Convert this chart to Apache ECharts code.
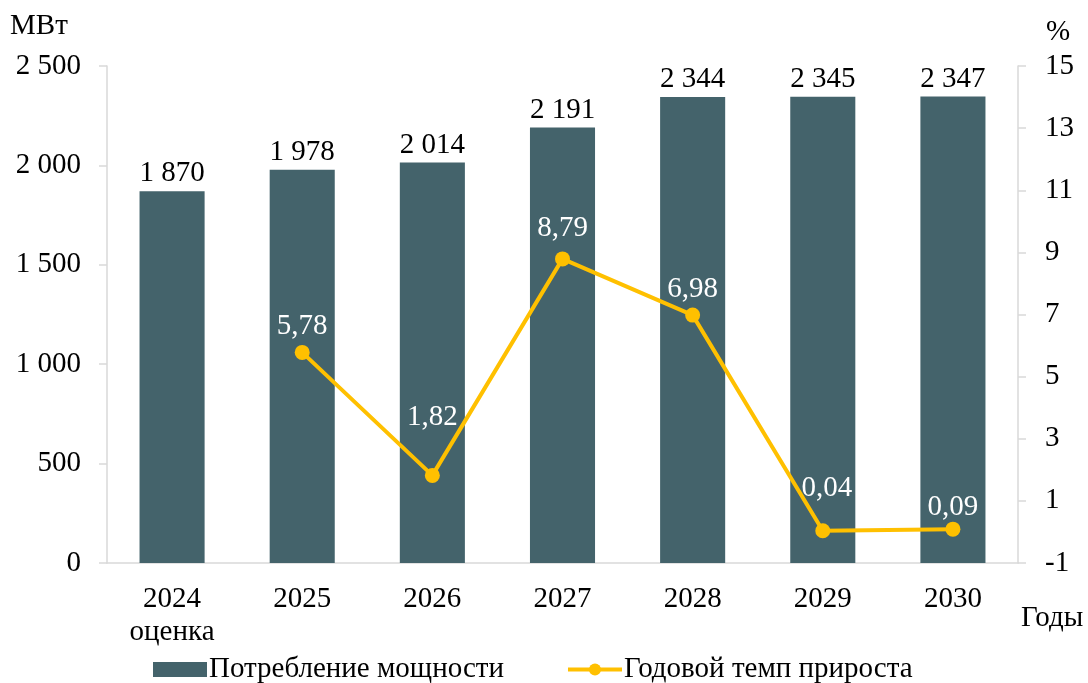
<!DOCTYPE html>
<html>
<head>
<meta charset="utf-8">
<script src="https://cdn.jsdelivr.net/npm/echarts@6/dist/echarts.min.js"></script>
<style>
  html, body { margin: 0; padding: 0; background: #fff; }
  #chart { width: 1088px; height: 683px; }
</style>
</head>
<body>
<div id="chart"></div>
<script>
const years = ['2024\nоценка', '2025', '2026', '2027', '2028', '2029', '2030'];
const consumption = [1870, 1978, 2014, 2191, 2344, 2345, 2347];
const growth = [null, 5.78, 1.82, 8.79, 6.98, 0.04, 0.09];
const rightTicks = [-1, 1, 3, 5, 7, 9, 11, 13, 15];

const FONT = "Liberation Serif";
const FS = 29;
const BAR_COLOR = '#44636b';
const LINE_COLOR = '#ffc000';
const AXIS_COLOR = '#d9d9d9';

const spaced = v => String(v).replace(/\B(?=(\d{3})+(?!\d))/g, ' ');
const comma = v => String(v.toFixed(2)).replace('.', ',');

const chart = echarts.init(document.getElementById('chart'));
chart.setOption({
  animation: false,
  textStyle: { fontFamily: FONT },
  grid: { left: 107, right: 70, top: 66, bottom: 120 },
  legend: {
    left: 148,
    bottom: -6,
    itemWidth: 54,
    itemHeight: 15,
    itemGap: 62,
    textStyle: { fontFamily: FONT, fontSize: FS, color: '#000', padding: [0, 0, 0, -3] },
    data: [
      { name: 'Потребление мощности', icon: 'rect' },
      { name: 'Годовой темп прироста', lineStyle: { width: 4 }, itemStyle: { color: LINE_COLOR } },
    ],
  },
  graphic: [
    { type: 'text', left: 10, top: 12, style: { text: 'МВт', font: `${FS}px ${FONT}`, fill: '#000' } },
    { type: 'text', left: 1046, top: 18, style: { text: '%', font: `${FS}px ${FONT}`, fill: '#000' } },
    { type: 'text', left: 1021, top: 604, style: { text: 'Годы', font: `${FS}px ${FONT}`, fill: '#000' } },
  ],
  xAxis: {
    type: 'category',
    data: years,
    axisLine: { lineStyle: { color: AXIS_COLOR, width: 1.5 } },
    axisTick: { length: 8, lineStyle: { color: AXIS_COLOR, width: 1.5 } },
    axisLabel: { color: '#000', fontSize: FS, fontFamily: FONT, margin: 20, lineHeight: 33 },
  },
  yAxis: [
    {
      type: 'value',
      min: 0,
      max: 2500,
      interval: 500,
      splitLine: { show: false },
      axisLine: { show: true, lineStyle: { color: AXIS_COLOR, width: 1.5 } },
      axisTick: { show: true, length: 8, lineStyle: { color: AXIS_COLOR, width: 1.5 } },
      axisLabel: { color: '#000', fontSize: FS, fontFamily: FONT, margin: 26, formatter: spaced },
    },
    {
      type: 'value',
      position: 'right',
      min: -1,
      max: 15,
      splitLine: { show: false },
      axisLine: { show: true, lineStyle: { color: AXIS_COLOR, width: 1.5 } },
      axisTick: { show: true, length: 8, customValues: rightTicks, lineStyle: { color: AXIS_COLOR, width: 1.5 } },
      axisLabel: { color: '#000', fontSize: FS, fontFamily: FONT, margin: 27, customValues: rightTicks },
    },
  ],
  series: [
    {
      name: 'Потребление мощности',
      type: 'bar',
      barWidth: '50%',
      itemStyle: { color: BAR_COLOR },
      label: {
        show: true,
        position: 'top',
        distance: 3,
        color: '#000',
        fontSize: FS,
        fontFamily: FONT,
        formatter: p => spaced(p.value),
      },
      data: consumption,
    },
    {
      name: 'Годовой темп прироста',
      type: 'line',
      yAxisIndex: 1,
      symbol: 'circle',
      symbolSize: 15,
      lineStyle: { color: LINE_COLOR, width: 4 },
      itemStyle: { color: LINE_COLOR },
      label: {
        show: true,
        position: 'top',
        distance: 4,
        color: '#fff',
        fontSize: FS,
        fontFamily: FONT,
        formatter: p => comma(p.value),
      },
      data: growth.map((v, i) => {
        if (i === 2) return { value: v, label: { offset: [0, -32] } };
        if (i === 3) return { value: v, label: { offset: [0, -5] } };
        if (i === 5) return { value: v, label: { offset: [4, -16] } };
        if (i === 6) return { value: v, label: { offset: [0, 4] } };
        return v;
      }),
    },
  ],
});
</script>
</body>
</html>
